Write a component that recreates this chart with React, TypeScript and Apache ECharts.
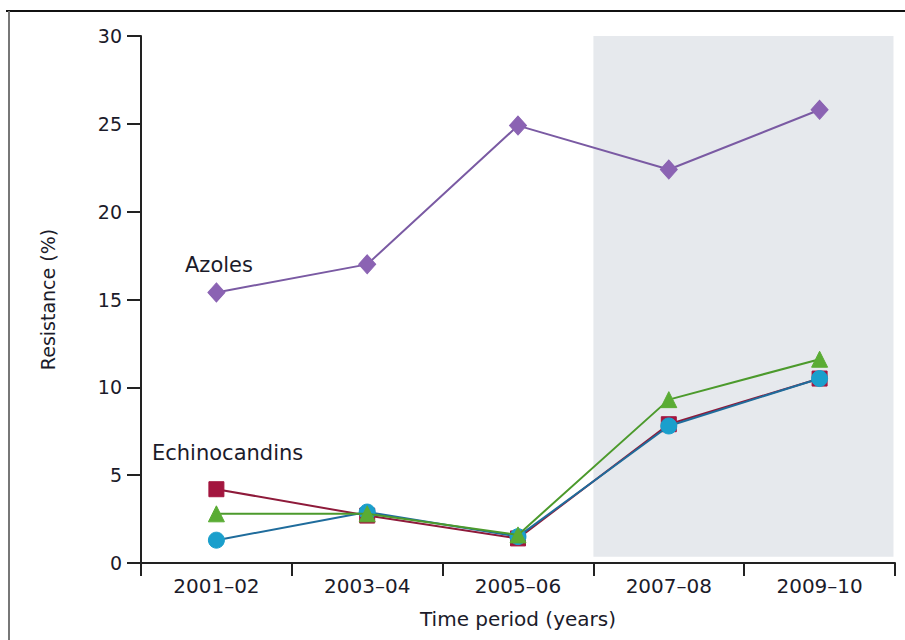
import React, { useEffect, useRef } from "react";
import * as echarts from "echarts";

const periods = ["2001–02", "2003–04", "2005–06", "2007–08", "2009–10"];
const azoles = [15.4, 17.0, 24.9, 22.4, 25.8];
const echinoRed = [4.2, 2.7, 1.4, 7.9, 10.5];
const echinoGreen = [2.8, 2.8, 1.6, 9.3, 11.6];
const echinoBlue = [1.3, 2.9, 1.5, 7.8, 10.5];
const yTicks = { min: 0, max: 30, interval: 5 };
const mdrRange = [3, 5];

const FONT = "'DejaVu Sans', Verdana, sans-serif";
const TXT = "#1b1b2a";

export default function App() {
  const ref = useRef<HTMLDivElement>(null);
  useEffect(() => {
    if (!ref.current) return;
    const chart = echarts.init(ref.current, null, { renderer: "svg" });
    const lineSeries = (name: string, data: number[], color: string, lineColor: string, symbol: string, size: any, z: number) => ({
      name,
      type: "line",
      data,
      symbol,
      symbolSize: size,
      z,
      itemStyle: { color, borderColor: color },
      lineStyle: { color: lineColor, width: 2 },
      emphasis: { disabled: true },
    });
    chart.setOption({
      animation: false,
      backgroundColor: "#ffffff",
      grid: { left: 141, right: 10, top: 36, bottom: 77 },
      xAxis: [
        {
          type: "category",
          data: periods,
          boundaryGap: true,
          axisLine: { lineStyle: { color: "#222", width: 2 } },
          axisTick: { show: true, length: 13, lineStyle: { color: "#222", width: 2 } },
          axisLabel: { color: TXT, fontFamily: FONT, fontSize: 20, margin: 13 },
          name: "Time period (years)",
          nameLocation: "middle",
          nameGap: 46,
          nameTextStyle: { color: TXT, fontFamily: FONT, fontSize: 20 },
        },
        { type: "value", min: 0, max: 5, show: false },
      ],
      yAxis: {
        type: "value",
        min: yTicks.min,
        max: yTicks.max,
        interval: yTicks.interval,
        axisLine: { show: true, lineStyle: { color: "#222", width: 2 } },
        axisTick: { show: true, length: 14, lineStyle: { color: "#222", width: 2 } },
        axisLabel: { color: TXT, fontFamily: FONT, fontSize: 19, margin: 19 },
        splitLine: { show: false },
        name: "Resistance (%)",
        nameLocation: "middle",
        nameGap: 84,
        nameTextStyle: { color: TXT, fontFamily: FONT, fontSize: 19 },
      },
      series: [
        {
          type: "line",
          xAxisIndex: 1,
          data: [[mdrRange[0], 0.35]],
          symbol: "none",
          lineStyle: { opacity: 0 },
          z: 1,
          silent: true,
          markArea: {
            silent: true,
            itemStyle: { color: "#e6e9ed" },
            data: [[{ xAxis: mdrRange[0], yAxis: 0.35 }, { xAxis: mdrRange[1] - 0.01, yAxis: 30 }]],
          },
        },
        lineSeries("Azoles", azoles, "#8b63b3", "#7a5aa3", "diamond", [17, 19], 3),
        lineSeries("Echinocandins A", echinoRed, "#a3163f", "#8e1a3a", "rect", 15, 4),
        lineSeries("Echinocandins C", echinoBlue, "#1a9fcc", "#1f6c9c", "circle", 16, 5),
        lineSeries("Echinocandins B", echinoGreen, "#5aac34", "#4c9a2c", "triangle", 16, 6),
      ],
      graphic: [
        { type: "line", shape: { x1: 6, y1: 11, x2: 905, y2: 11 }, style: { stroke: "#111", lineWidth: 2 } },
        { type: "line", shape: { x1: 9, y1: 11, x2: 9, y2: 640 }, style: { stroke: "#777", lineWidth: 2 } },
        { type: "text", x: 185, y: 265, style: { text: "Azoles", fill: TXT, font: `21px ${FONT}`, verticalAlign: "middle" } },
        { type: "text", x: 152, y: 453, style: { text: "Echinocandins", fill: TXT, font: `21px ${FONT}`, verticalAlign: "middle" } },
        { type: "text", x: 725, y: 57, style: { text: "MDR", fill: TXT, font: `21px ${FONT}`, verticalAlign: "middle" } },
      ],
    });
    return () => chart.dispose();
  }, []);
  return <div ref={ref} style={{ position: "fixed", left: 0, top: 0, width: 905, height: 640 }} />;
}
